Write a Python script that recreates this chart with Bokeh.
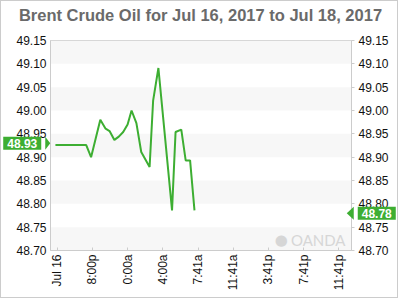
from math import pi
from bokeh.plotting import figure
from bokeh.layouts import row
from bokeh.models import (Range1d, LinearAxis, FixedTicker, BoxAnnotation, Label,
                          PrintfTickFormatter)
from bokeh.embed import file_html
from bokeh.resources import INLINE

# ---- data ----
hours = [15.8, 19.3, 19.85, 20.9, 21.5, 21.95, 22.5, 23.0, 23.5, 24.0, 24.45,
         25.0, 25.55, 26.5, 26.9, 27.5, 29.05, 29.45, 30.1, 30.6, 31.1, 31.6]
prices = [48.926, 48.926, 48.900, 48.980, 48.961, 48.956, 48.937, 48.944,
          48.954, 48.970, 49.000, 48.973, 48.911, 48.879, 49.021, 49.091,
          48.786, 48.954, 48.959, 48.893, 48.893, 48.786]
x_ticks = [16, 20, 24, 28, 32, 36, 40, 44, 48]
x_labels = ["Jul 16", "8:00p", "0:00a", "4:00a", "7:41a", "11:41a", "3:41p",
            "7:41p", "11:41p"]
y_ticks = [48.70, 48.75, 48.80, 48.85, 48.90, 48.95, 49.00, 49.05, 49.10, 49.15]
band_lows = [48.70, 48.80, 48.90, 49.00, 49.10]
band_height = 0.05
tag_values = [48.93, 48.78]          # first / last price, rounded
title_text = "Brent Crude Oil for Jul 16, 2017 to Jul 18, 2017"

GREEN = "#3dae32"
FONT = "Liberation Sans"
X0, X1 = 15.24, 49.44
Y0, Y1 = 48.70, 49.15
FRAME_W, FRAME_H = 301, 210
px_x = (X1 - X0) / FRAME_W          # data units per pixel
px_y = (Y1 - Y0) / FRAME_H

yr = Range1d(Y0, Y1)
p = figure(width=398, height=298, output_backend="svg", toolbar_location=None,
           x_range=Range1d(X0, X1), y_range=yr,
           min_border_left=49, min_border_right=48, min_border_top=39,
           min_border_bottom=49)
p.styles = {"border": "1px solid #cccccc"}
p.background_fill_color = "white"
p.border_fill_color = "white"
p.outline_line_color = "#cccccc"
p.grid.grid_line_color = None
p.title.visible = False

# title, as a label in the top panel (placed just above the frame)
p.add_layout(Label(x=X0 + 150 * px_x, y=Y1 + 25.5 * px_y, text=title_text,
                   text_align="center", text_baseline="alphabetic",
                   text_font=FONT, text_font_size="16.5px", text_font_style="bold",
                   text_color="#6a6a6a"), "above")

for lo in band_lows:
    p.add_layout(BoxAnnotation(bottom=lo, top=lo + band_height, fill_color="#f7f7f7",
                               fill_alpha=1.0, line_color=None, level="underlay"))

p.line(hours, prices, line_color=GREEN, line_width=2)

# axes
xa = p.xaxis[0]
xa.ticker = FixedTicker(ticks=x_ticks)
xa.major_label_overrides = {t: l for t, l in zip(x_ticks, x_labels)}
xa.major_label_orientation = pi / 2
ya = p.yaxis[0]
ya.ticker = FixedTicker(ticks=y_ticks)
ya.formatter = PrintfTickFormatter(format="%.2f")
ra = LinearAxis(ticker=FixedTicker(ticks=y_ticks),
                formatter=PrintfTickFormatter(format="%.2f"))
p.add_layout(ra, "right")
for ax in (xa, ya, ra):
    ax.axis_line_color = "#cccccc"
    ax.major_tick_line_color = "#cccccc"
    ax.minor_tick_line_color = None
    ax.major_label_text_font = FONT
    ax.major_label_text_font_size = "12px"
    ax.major_label_text_color = "#111111"
    ax.major_label_standoff = 4
xa.major_tick_in = 3
xa.major_tick_out = 0
ya.major_tick_in = 0
ya.major_tick_out = 0
ra.major_tick_in = 0
ra.major_tick_out = 3

# watermark
p.add_layout(Label(x=48.76, y=48.704, text="OANDA", text_align="right",
                   text_baseline="bottom", text_color="#d6d6d6",
                   text_font="Lato", text_font_size="15px"))
p.add_layout(Label(x=42.2, y=48.703, text="●", text_align="right",
                   text_baseline="bottom", text_color="#d6d6d6",
                   text_font="DejaVu Sans", text_font_size="15px"))

# ---- transparent overlay (same vertical frame, full width) for the value tags ----
q = figure(width=400, height=298, output_backend="svg", toolbar_location=None,
           x_range=Range1d(X0 - 50 * px_x, X0 + 350 * px_x), y_range=yr,
           min_border_left=0, min_border_right=0, min_border_top=39,
           min_border_bottom=49, x_axis_location=None, y_axis_location=None)
q.title.visible = False
q.background_fill_alpha = 0
q.border_fill_alpha = 0
q.outline_line_color = None
q.grid.visible = False
q.styles = {"position": "absolute", "top": "1px", "left": "0px"}

q.patches(xs=[[X0 - 5 * px_x, X0, X0 - 5 * px_x],
              [X1 + 4 * px_x, X1 - 3 * px_x, X1 + 4 * px_x]],
          ys=[[tag_values[0] + 6.5 * px_y, tag_values[0], tag_values[0] - 6.5 * px_y],
              [tag_values[1] + 6.5 * px_y, tag_values[1], tag_values[1] - 6.5 * px_y]],
          fill_color=GREEN, line_color=None)
q.add_layout(Label(x=X0, y=tag_values[0], text="%.2f" % tag_values[0],
                   text_align="right", text_baseline="middle", x_offset=-9,
                   text_color="white", text_font=FONT, text_font_size="12px",
                   text_font_style="bold", background_fill_color=GREEN,
                   padding=(4, 2)))
q.add_layout(Label(x=X1, y=tag_values[1], text="%.2f" % tag_values[1],
                   text_align="left", text_baseline="middle", x_offset=8,
                   text_color="white", text_font=FONT, text_font_size="12px",
                   text_font_style="bold", background_fill_color=GREEN,
                   padding=(4, 2)))

open("out.html", "w").write(file_html(row(p, q), INLINE))
